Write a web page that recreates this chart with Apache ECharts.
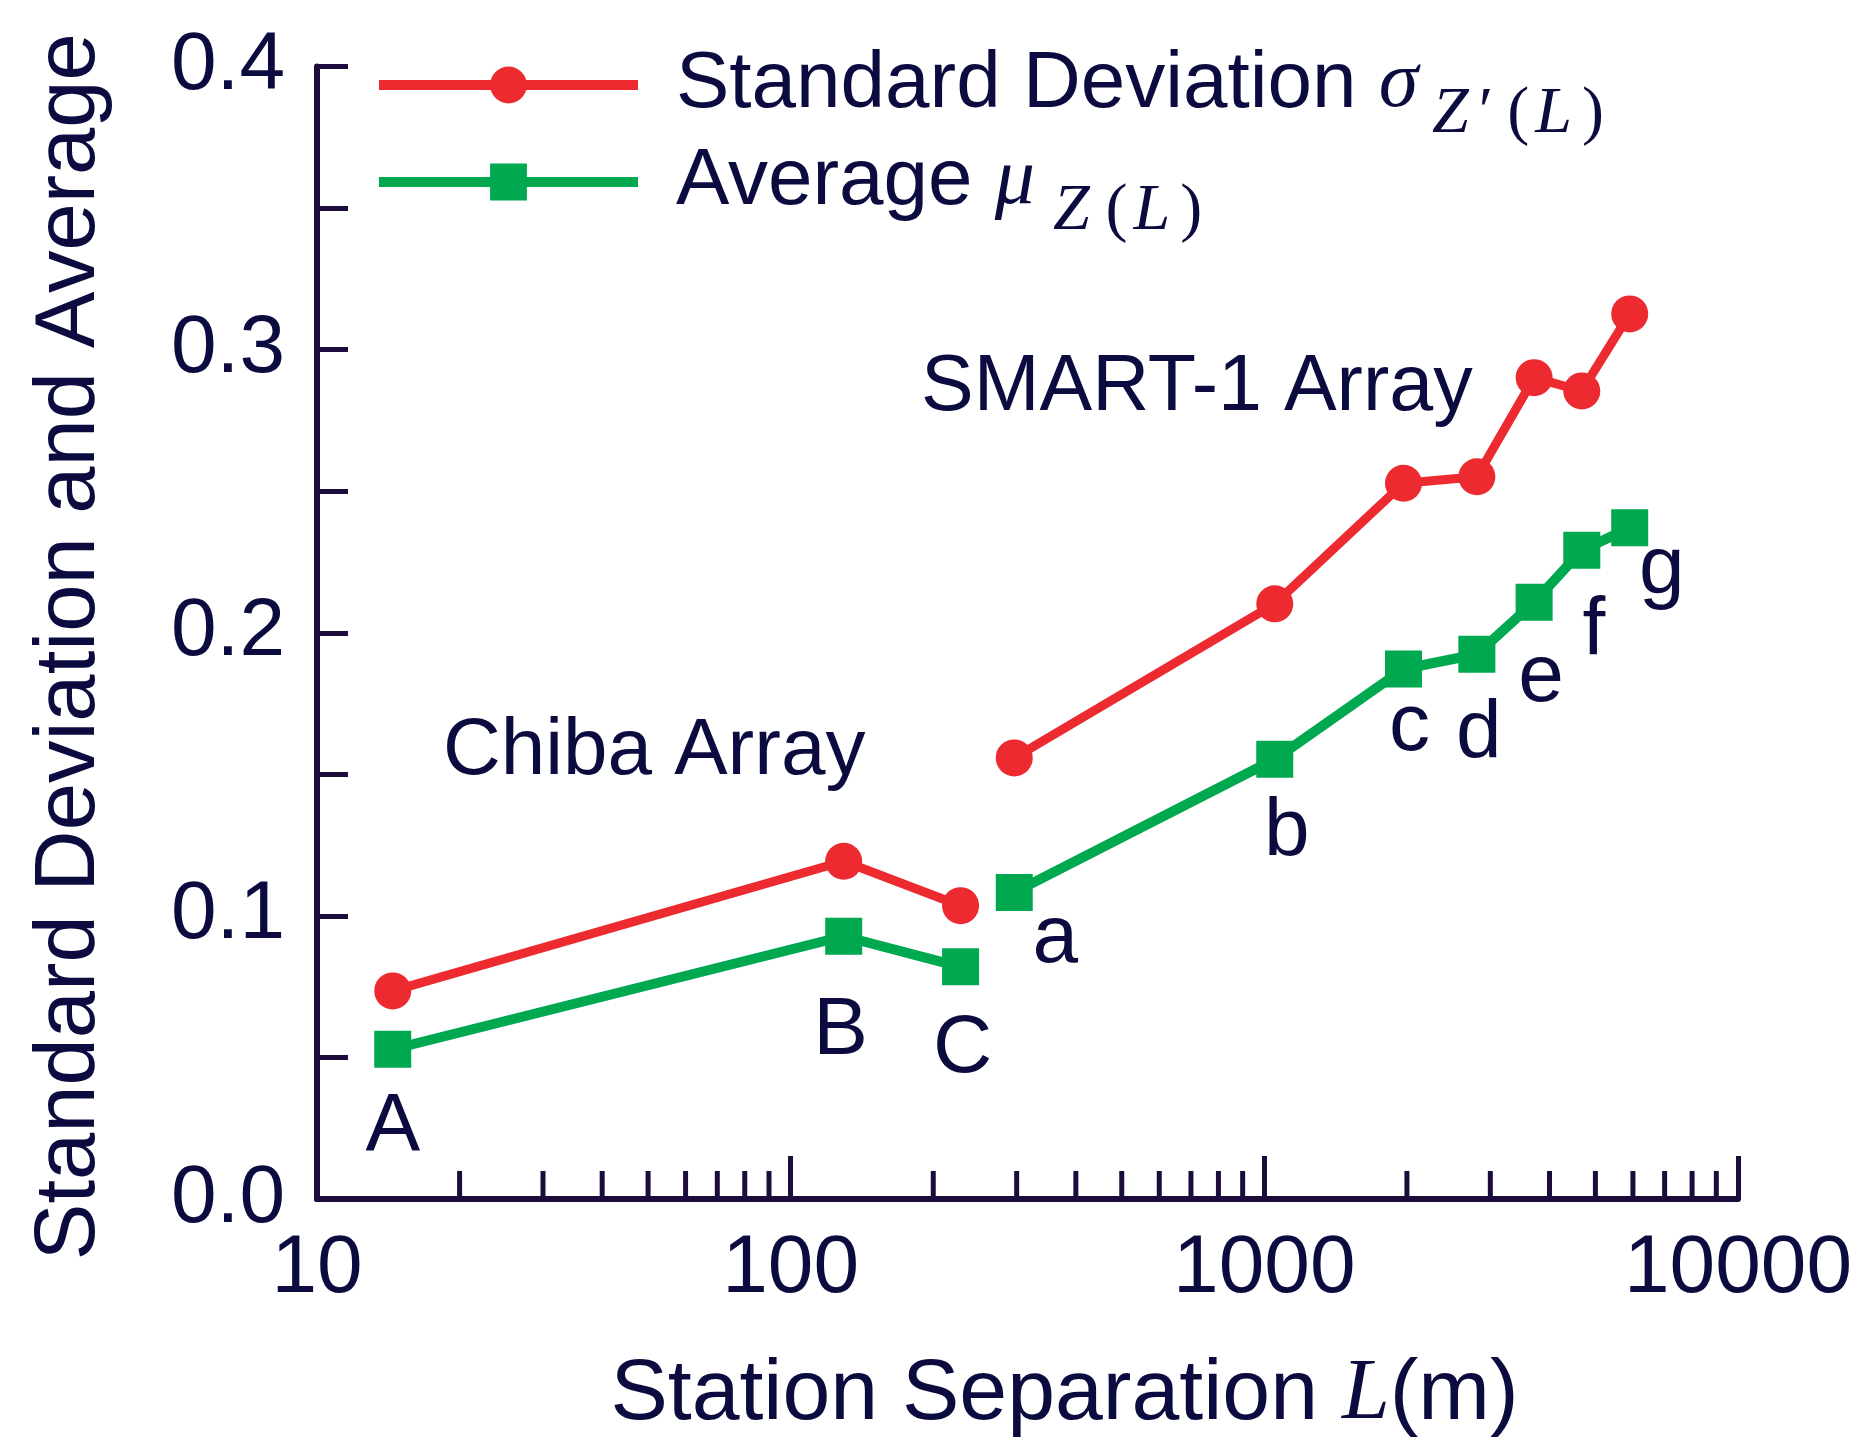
<!DOCTYPE html>
<html>
<head>
<meta charset="utf-8">
<script src="https://cdn.jsdelivr.net/npm/echarts@6/dist/echarts.min.js"></script>
<style>
  html, body { margin: 0; padding: 0; background: #fff; }
  #chart { width: 1862px; height: 1439px; }
</style>
</head>
<body>
<div id="chart"></div>
<script>
// station separation L (m) and values
var chibaL = [14.45, 129.4, 228.4];
var chibaSD = [0.0735, 0.1193, 0.1036];
var chibaMu = [0.0529, 0.0928, 0.0820];
var chibaTags = ['A', 'B', 'C'];

var smartL = [296.5, 1052, 1967, 2810, 3712, 4680, 5907];
var smartSD = [0.1558, 0.2102, 0.2528, 0.2551, 0.2901, 0.2854, 0.3126];
var smartMu = [0.1083, 0.1553, 0.1872, 0.1924, 0.2108, 0.2291, 0.2371];
var smartTags = ['a', 'b', 'c', 'd', 'e', 'f', 'g'];

// minor ticks of the log axis
var minorTicks = [20, 30, 40, 50, 60, 70, 80, 90,
  200, 300, 400, 500, 600, 700, 800, 900,
  2000, 3000, 4000, 5000, 6000, 7000, 8000, 9000];

// label placement (px offsets from the green markers)
var chibaOffsets = [[0, 78], [-3, 95], [2, 83]];
var smartOffsets = [[41, 47], [12, 73], [6, 58], [2, 80], [7, 76], [12, 81], [32, 43]];

var RED = '#ec2a2f';
var GREEN = '#00a84f';
var INK = '#0b0b3f';
var AXIS = '#1c0c3c';
var SANS = '"Liberation Sans", Arial, Helvetica, sans-serif';
var SERIF = '"Liberation Serif", "Times New Roman", serif';

function pairs(xs, ys) {
  return xs.map(function (x, i) { return [x, ys[i]]; });
}

function labelled(xs, ys, offsets) {
  return pairs(xs, ys).map(function (p, i) {
    return { value: p, label: { offset: offsets[i] } };
  });
}

// subscript pieces sit lower: main tokens are 126 tall and centred, sub tokens 60 tall at the bottom
function sub(extra) {
  var s = { fontFamily: SERIF, fontStyle: 'italic', fontSize: 66, color: INK, lineHeight: 60, verticalAlign: 'bottom' };
  for (var k in extra) s[k] = extra[k];
  return s;
}

var legendRich = {
  m: { fontFamily: SANS, fontSize: 80, color: INK, lineHeight: 126, padding: [0, 0, 0, 33] },
  g: { fontFamily: SERIF, fontStyle: 'italic', fontSize: 80, color: INK, lineHeight: 126 },
  z1: sub({ padding: [0, 10, 0, 14] }),
  z2: sub({ padding: [0, 16, 0, 18] }),
  pr: sub({ fontStyle: 'normal', padding: [0, 14, 0, 0] }),
  po: sub({ fontStyle: 'normal', padding: [0, 6, 0, 0] }),
  l: sub({ padding: [0, 10, 0, 0] }),
  pc: sub({ fontStyle: 'normal' })
};

function pointLabel(tags) {
  return {
    show: true,
    position: 'inside',
    fontFamily: SANS,
    fontSize: 82,
    color: INK,
    formatter: function (p) { return tags[p.dataIndex]; }
  };
}

var chart = echarts.init(document.getElementById('chart'));

var option = {
  backgroundColor: '#fff',
  animation: false,
  grid: { left: 317, right: 124, top: 66.5, bottom: 240, containLabel: false, outerBoundsMode: 'none' },
  legend: [
    {
      data: ['sd'], left: 374, top: 45, padding: 0, orient: 'vertical',
      itemWidth: 259, itemHeight: 46, selectedMode: false,
      lineStyle: { width: 10 },
      formatter: function () { return '{m|Standard Deviation }{g|σ}{z1|Z}{pr|′}{po|(}{l|L}{pc|)}'; },
      textStyle: { rich: legendRich }
    },
    {
      data: ['mu'], left: 374, top: 142, padding: 0, orient: 'vertical',
      itemWidth: 259, itemHeight: 46, selectedMode: false,
      lineStyle: { width: 10 },
      formatter: function () { return '{m|Average }{g|μ}{z2|Z}{po|(}{l|L}{pc|)}'; },
      textStyle: { rich: legendRich }
    }
  ],
  xAxis: {
    type: 'log',
    logBase: 10,
    min: 10,
    max: 10000,
    name: '{m|Station Separation }{l|L}{m|(m)}',
    nameLocation: 'middle',
    nameGap: 153,
    nameTextStyle: {
      padding: [0, 0, 0, 74],
      rich: {
        m: { fontFamily: SANS, fontSize: 86, color: INK },
        l: { fontFamily: SERIF, fontStyle: 'italic', fontSize: 86, color: INK }
      }
    },
    axisLine: { show: true, onZero: false, lineStyle: { color: AXIS, width: 6 } },
    axisTick: { show: true, inside: true, length: 43, lineStyle: { color: AXIS, width: 5 } },
    minorTick: { show: false },
    axisLabel: {
      fontFamily: SANS, fontSize: 82, color: INK, margin: 29, showMinLabel: true, showMaxLabel: true,
      formatter: function (v) { return String(Math.round(v)); }
    },
    splitLine: { show: false }
  },
  yAxis: {
    type: 'value',
    min: 0,
    max: 0.4,
    interval: 0.05,
    name: 'Standard Deviation and Average',
    nameLocation: 'middle',
    nameGap: 204,
    nameTextStyle: { fontFamily: SANS, fontSize: 85, color: INK, padding: [0, 28, 0, 0] },
    axisLine: { show: true, onZero: false, lineStyle: { color: AXIS, width: 6 } },
    axisTick: { show: true, inside: true, length: 31, lineStyle: { color: AXIS, width: 5 } },
    axisLabel: {
      fontFamily: SANS, fontSize: 82, color: INK, margin: 32,
      formatter: function (v) {
        return Math.round(v * 100) % 10 === 0 ? v.toFixed(1) : '';
      }
    },
    splitLine: { show: false }
  },
  graphic: [
    { type: 'text', x: 443, y: 752, style: { text: 'Chiba Array', font: '80px ' + SANS, fill: INK, verticalAlign: 'middle' } },
    { type: 'text', x: 921, y: 388, style: { text: 'SMART-1 Array', font: '79px ' + SANS, fill: INK, verticalAlign: 'middle' } }
  ],
  series: [
    {
      name: 'sd', type: 'line', data: pairs(chibaL, chibaSD),
      symbol: 'circle', symbolSize: 37,
      lineStyle: { color: RED, width: 9 }, itemStyle: { color: RED }, z: 3
    },
    {
      name: 'sd', type: 'line', data: pairs(smartL, smartSD),
      symbol: 'circle', symbolSize: 37,
      lineStyle: { color: RED, width: 9 }, itemStyle: { color: RED }, z: 3
    },
    {
      name: 'mu', type: 'line', data: labelled(chibaL, chibaMu, chibaOffsets),
      symbol: 'rect', symbolSize: 37,
      lineStyle: { color: GREEN, width: 10 }, itemStyle: { color: GREEN },
      label: pointLabel(chibaTags), z: 3
    },
    {
      name: 'mu', type: 'line', data: labelled(smartL, smartMu, smartOffsets),
      symbol: 'rect', symbolSize: 37,
      lineStyle: { color: GREEN, width: 10 }, itemStyle: { color: GREEN },
      label: pointLabel(smartTags), z: 3
    },
    {
      // minor ticks drawn through the log scale
      type: 'custom', silent: true, clip: false, z: 1,
      data: minorTicks.map(function (v) { return [v, 0]; }),
      renderItem: function (params, api) {
        var p = api.coord([api.value(0), api.value(1)]);
        return {
          type: 'line',
          shape: { x1: p[0], y1: p[1], x2: p[0], y2: p[1] - 28 },
          style: { stroke: AXIS, lineWidth: 5 }
        };
      }
    }
  ]
};

chart.setOption(option);
</script>
</body>
</html>
